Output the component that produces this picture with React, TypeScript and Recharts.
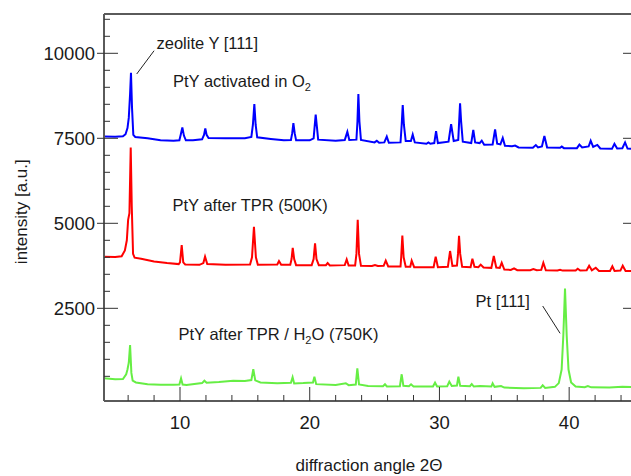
import { LineChart, Line, XAxis, YAxis, ReferenceLine } from 'recharts'

// 2-theta positions and intensities
const blueTheta = [
  4.15, 5.0, 5.6, 5.8, 5.95, 6.05, 6.15, 6.22, 6.3, 6.4, 6.55, 7.5, 8.5, 9.5, 9.95, 10.05, 10.18, 10.3, 10.45, 11.0,
  11.7, 11.85, 11.95, 12.05, 12.2, 13.5, 15.0, 15.5, 15.62, 15.73, 15.83, 15.95, 17.0, 18.0, 18.55, 18.65, 18.74, 18.84,
  18.95, 20.0, 20.3, 20.38, 20.46, 20.55, 20.65, 22.0, 22.7, 22.9, 23.05, 23.6, 23.68, 23.75, 23.83, 23.95, 25.0, 25.17,
  25.35, 25.75, 25.94, 26.1, 27.0, 27.09, 27.17, 27.26, 27.4, 27.8, 27.94, 28.1, 29.0, 29.15, 29.3, 29.6, 29.74, 29.88,
  30.7, 30.9, 31.1, 31.45, 31.52, 31.59, 31.67, 31.8, 32.45, 32.61, 32.75, 33.1, 33.26, 33.45, 34.1, 34.29, 34.45, 34.7,
  34.88, 35.05, 35.6, 35.83, 36.1, 37.2, 37.43, 37.6, 37.9, 38.09, 38.3, 39.3, 39.43, 39.6, 40.6, 40.79, 41.0, 41.5,
  41.66, 41.85, 42.17, 42.4, 43.3, 43.49, 43.7, 44.1, 44.31, 44.5, 45.2,
]
const blueCounts = [
  7550, 7545, 7560, 7620, 7800, 8100, 8800, 9430, 8400, 7600, 7540, 7500, 7440, 7430, 7440, 7600, 7820, 7580, 7440, 7440,
  7470, 7600, 7790, 7600, 7510, 7500, 7505, 7540, 7900, 8510, 7900, 7530, 7480, 7440, 7450, 7650, 7950, 7650,
  7440, 7440, 7500, 7850, 8200, 7850, 7460, 7430, 7450, 7690, 7450, 7460, 8000, 8800, 8000, 7450, 7380, 7430,
  7370, 7380, 7550, 7370, 7380, 7900, 8480, 7900, 7420, 7420, 7610, 7380, 7340, 7380, 7340, 7360, 7710, 7360,
  7400, 7920, 7420, 7450, 8000, 8530, 8000, 7400, 7360, 7750, 7380, 7360, 7430, 7310, 7320, 7760, 7340, 7320,
  7510, 7280, 7270, 7285, 7230, 7220, 7300, 7230, 7260, 7570, 7230, 7220, 7256, 7210, 7210, 7315, 7230, 7260,
  7430, 7250, 7305, 7200, 7190, 7335, 7200, 7210, 7380, 7200, 7190,
]

const redTheta = [
  4.15, 5.0, 5.5, 5.75, 5.9, 6.0, 6.1, 6.2, 6.28, 6.38, 6.5, 7.0, 8.0, 9.0, 9.9, 10.0, 10.13, 10.25, 10.4, 11.5,
  11.8, 11.93, 12.1, 13.5, 15.4, 15.55, 15.7, 15.85, 16.0, 17.5, 17.63, 17.8, 18.5, 18.6, 18.69, 18.8, 18.95, 20.15,
  20.3, 20.41, 20.52, 20.7, 21.25, 21.38, 21.55, 22.7, 22.85, 23.0, 23.5, 23.6, 23.7, 23.8, 23.95, 24.8, 25.03, 25.25,
  25.7, 25.86, 26.05, 27.0, 27.05, 27.14, 27.24, 27.4, 27.75, 27.86, 28.05, 29.55, 29.71, 29.88, 30.65, 30.82, 31.0,
  31.35, 31.43, 31.51, 31.6, 31.75, 32.4, 32.54, 32.7, 33.0, 33.18, 33.4, 34.0, 34.19, 34.38, 34.65, 34.8, 35.0,
  35.5, 35.75, 36.0, 37.0, 37.24, 37.5, 37.85, 38.01, 38.2, 39.1, 39.3, 39.5, 40.5, 40.66, 40.85, 41.35, 41.54,
  41.75, 42.05, 42.3, 43.15, 43.33, 43.5, 43.95, 44.13, 44.35, 45.2,
]
const redCounts = [
  4020, 4010, 4030, 4200, 4500, 5100, 5300, 7230, 5500, 4100, 3990, 3960, 3880, 3830, 3800, 3850, 4360, 3850, 3790, 3780,
  3830, 4020, 3800, 3780, 3790, 4000, 4900, 4000, 3780, 3790, 3890, 3780, 3780, 3950, 4280, 3950, 3770, 3770,
  3950, 4410, 3950, 3770, 3770, 3830, 3760, 3770, 3940, 3760, 3760, 4100, 5100, 4100, 3750, 3745, 3775, 3745,
  3750, 3900, 3730, 3730, 4000, 4640, 4000, 3720, 3720, 3900, 3710, 3710, 4020, 3710, 3720, 4185, 3750,
  3760, 4100, 4630, 4100, 3720, 3710, 3960, 3720, 3710, 3785, 3700, 3690, 4040, 3700, 3690, 3840, 3640,
  3630, 3677, 3620, 3620, 3656, 3620, 3630, 3840, 3620, 3615, 3636, 3610, 3610, 3665, 3610, 3620, 3753,
  3620, 3694, 3600, 3600, 3735, 3600, 3610, 3753, 3600, 3598,
]

const greenTheta = [
  4.15, 5.0, 5.6, 5.85, 5.95, 6.05, 6.15, 6.25, 6.35, 6.6, 7.5, 8.5, 9.5, 9.95, 10.08, 10.2, 10.5, 11.7, 11.88, 12.05,
  13.0, 14.1, 15.0, 15.5, 15.65, 15.8, 16.2, 17.5, 18.55, 18.68, 18.8, 19.5, 20.25, 20.36, 20.5, 22.0, 22.78, 23.0,
  23.55, 23.67, 23.8, 24.5, 25.65, 25.8, 25.95, 26.95, 27.09, 27.22, 27.65, 27.81, 28.0, 29.5, 29.66, 29.82, 30.6,
  30.76, 30.95, 31.35, 31.46, 31.6, 32.35, 32.49, 32.65, 33.13, 34.0, 34.1, 34.25, 34.75, 35.0, 36.5, 37.8, 37.96,
  38.15, 38.9, 39.2, 39.42, 39.55, 39.68, 39.81, 39.95, 40.15, 40.5, 41.2, 41.44, 41.7, 43.1, 44.1, 45.2,
]
const greenCounts = [
  440, 412, 420, 560, 700, 900, 1420, 600, 371, 320, 265, 255, 250, 260, 440, 260, 245, 300, 371, 310,
  330, 371, 360, 390, 708, 380, 320, 295, 310, 471, 290, 300, 320, 489, 270, 245, 295, 240,
  260, 736, 260, 215, 210, 265, 200, 210, 560, 220, 210, 265, 200, 200, 313, 200, 210,
  342, 215, 230, 489, 220, 210, 274, 200, 215, 200, 295, 190, 215, 170, 150, 160, 236,
  160, 190, 300, 700, 1700, 3080, 1700, 700, 320, 200, 180, 215, 175, 170, 195, 180,
]

const xMajor = [10, 20, 30, 40]
const xTicks = [6, 8, 10, 12, 14, 16, 18, 20, 22, 24, 26, 28, 30, 32, 34, 36, 38, 40, 42, 44]
const yMajor = [2500, 5000, 7500, 10000]
const yTicks = [
  500, 1000, 1500, 2000, 2500, 3000, 3500, 4000, 4500, 5000, 5500,
  6000, 6500, 7000, 7500, 8000, 8500, 9000, 9500, 10000, 10500, 11000,
]

const pairs = (theta: number[], counts: number[]) => theta.map((t, i) => ({ theta: t, counts: counts[i] }))
const blueData = pairs(blueTheta, blueCounts)
const redData = pairs(redTheta, redCounts)
const greenData = pairs(greenTheta, greenCounts)

const FONT = '"Liberation Sans", Arial, Helvetica, sans-serif'
const AXIS = '#5a5a5a'
const TICK = '#333'
const INK = '#1a1a1a'
const X_DOMAIN: [number, number] = [4.14, 45.23]
const Y_DOMAIN: [number, number] = [-226, 11156]

function BottomTick({ x, y, payload }: any) {
  const major = xMajor.includes(payload.value)
  return (
    <g>
      <line x1={x} x2={x} y1={y} y2={y - (major ? 14 : 6)} stroke={TICK} strokeWidth={1} />
      {major && (
        <text x={x} y={y + 28} textAnchor="middle" fontSize={18.5} fontFamily={FONT} fill={INK}>
          {payload.value}
        </text>
      )}
    </g>
  )
}

function TopTick({ x, y, payload }: any) {
  const major = xMajor.includes(payload.value)
  return <line x1={x} x2={x} y1={y} y2={y + (major ? 13 : 6)} stroke={TICK} strokeWidth={1} />
}

function LeftTick({ x, y, payload }: any) {
  const major = yMajor.includes(payload.value)
  return (
    <g>
      <line x1={major ? x - 7 : x} x2={x + (major ? 14 : 6)} y1={y} y2={y} stroke={TICK} strokeWidth={1} />
      {major && (
        <text x={x - 9} y={y + 6.5} textAnchor="end" fontSize={18.5} fontFamily={FONT} fill={INK}>
          {payload.value}
        </text>
      )}
    </g>
  )
}

function RightTick({ x, y, payload }: any) {
  const major = yMajor.includes(payload.value)
  return <line x1={x} x2={x - (major ? 14 : 6)} y1={y} y2={y} stroke={TICK} strokeWidth={1} />
}

export default function App() {
  return (
    <div style={{ position: 'absolute', left: 0, top: 0, width: 631, height: 476, overflow: 'hidden', background: '#fff' }}>
      <LineChart width={640} height={476} margin={{ top: 13, right: 2, bottom: 74, left: 103 }}>
        <XAxis
          dataKey="theta"
          type="number"
          domain={X_DOMAIN}
          allowDataOverflow
          ticks={xTicks}
          interval={0}
          height={1}
          tickSize={0}
          tickMargin={0}
          tickLine={false}
          axisLine={{ stroke: AXIS, strokeWidth: 2 }}
          tick={(p: any) => <BottomTick {...p} />}
        />
        <XAxis
          xAxisId="top"
          orientation="top"
          type="number"
          domain={X_DOMAIN}
          allowDataOverflow
          ticks={xTicks}
          interval={0}
          height={1}
          tickSize={0}
          tickMargin={0}
          tickLine={false}
          axisLine={{ stroke: AXIS, strokeWidth: 2 }}
          tick={(p: any) => <TopTick {...p} />}
        />
        <YAxis
          type="number"
          domain={Y_DOMAIN}
          allowDataOverflow
          ticks={yTicks}
          interval={0}
          width={1}
          tickSize={0}
          tickMargin={0}
          tickLine={false}
          axisLine={{ stroke: AXIS, strokeWidth: 2 }}
          tick={(p: any) => <LeftTick {...p} />}
        />
        <YAxis
          yAxisId="right"
          orientation="right"
          type="number"
          domain={Y_DOMAIN}
          allowDataOverflow
          ticks={yTicks}
          interval={0}
          width={1}
          tickSize={0}
          tickMargin={0}
          tickLine={false}
          axisLine={{ stroke: AXIS, strokeWidth: 2 }}
          tick={(p: any) => <RightTick {...p} />}
        />
        <Line data={greenData} dataKey="counts" type="linear" stroke="#66ee44" strokeWidth={2} dot={false} isAnimationActive={false} />
        <Line data={redData} dataKey="counts" type="linear" stroke="#ff0000" strokeWidth={2} dot={false} isAnimationActive={false} />
        <Line data={blueData} dataKey="counts" type="linear" stroke="#0000ff" strokeWidth={2} dot={false} isAnimationActive={false} />
        <ReferenceLine segment={[{ x: 6.66, y: 9391 }, { x: 8.0, y: 10076 }]} stroke="#222" strokeWidth={1} />
        <ReferenceLine segment={[{ x: 37.96, y: 2568 }, { x: 39.3, y: 1765 }]} stroke="#222" strokeWidth={1} />
      </LineChart>
      <svg width={631} height={476} style={{ position: 'absolute', left: 0, top: 0, pointerEvents: 'none' }} fontFamily={FONT} fill={INK}>
        <text x={156.5} y={48.5} fontSize={16.5}>zeolite Y [111]</text>
        <text x={173} y={87} fontSize={16.5}>
          PtY activated in O<tspan dy={4} fontSize={11}>2</tspan>
        </text>
        <text x={172.5} y={210.7} fontSize={16.5}>PtY after TPR (500K)</text>
        <text x={178.5} y={340} fontSize={16.5}>
          PtY after TPR / H<tspan dy={4} fontSize={11}>2</tspan>
          <tspan dy={-4}>O (750K)</tspan>
        </text>
        <text x={475.5} y={306.7} fontSize={16.5}>Pt [111]</text>
        <text x={369} y={471} fontSize={17} textAnchor="middle">diffraction angle 2Θ</text>
        <text x={27} y={211.7} fontSize={17} textAnchor="middle" transform="rotate(-90 27 211.7)">intensity [a.u.]</text>
      </svg>
    </div>
  )
}
